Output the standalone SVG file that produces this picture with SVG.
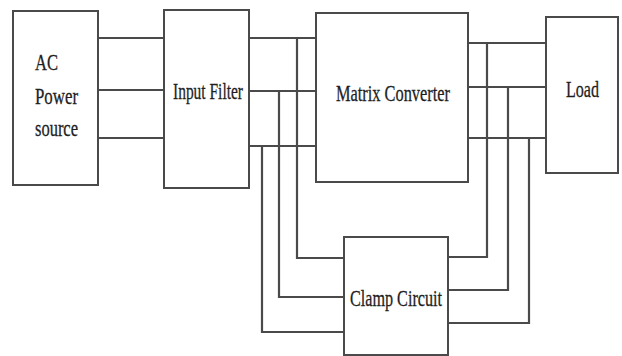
<svg xmlns="http://www.w3.org/2000/svg" width="622" height="356" viewBox="0 0 622 356">
<style>
.box{fill:#fff;stroke:#4a4a4a;stroke-width:2}
.w{fill:none;stroke:#4a4a4a;stroke-width:2.2}
.t{font-family:"Liberation Serif","Times New Roman",serif;font-size:24px;fill:#1e1e1e;stroke:#1e1e1e;stroke-width:0.3}
</style>
<rect width="622" height="356" fill="#fff"/>
<g id="connectors">
<line class="w" x1="98" y1="38" x2="164" y2="38"/>
<line class="w" x1="98" y1="90" x2="164" y2="90"/>
<line class="w" x1="98" y1="138" x2="164" y2="138"/>
<line class="w" x1="249" y1="38" x2="316" y2="38"/>
<line class="w" x1="249" y1="91" x2="316" y2="91"/>
<line class="w" x1="249" y1="146" x2="316" y2="146"/>
<polyline class="w" points="297,38 297,258 344,258"/>
<polyline class="w" points="279,91 279,297 344,297"/>
<polyline class="w" points="262,146 262,332 344,332"/>
<line class="w" x1="468" y1="43" x2="546" y2="43"/>
<line class="w" x1="468" y1="87" x2="546" y2="87"/>
<line class="w" x1="468" y1="138" x2="546" y2="138"/>
<polyline class="w" points="487,43 487,257 448,257"/>
<polyline class="w" points="508,87 508,290 448,290"/>
<polyline class="w" points="529,138 529,323 448,323"/>
</g>
<g id="ac">
<rect class="box" x="13" y="11" width="85" height="174"/>
<text class="t" x="35" y="70" textLength="23" lengthAdjust="spacingAndGlyphs">AC</text>
<text class="t" x="35" y="104" textLength="43" lengthAdjust="spacingAndGlyphs">Power</text>
<text class="t" x="35" y="136" textLength="43" lengthAdjust="spacingAndGlyphs">source</text>
</g>
<g id="filter">
<rect class="box" x="164" y="10" width="85" height="178"/>
<text class="t" x="173" y="99" textLength="70" lengthAdjust="spacingAndGlyphs">Input Filter</text>
</g>
<g id="matrix">
<rect class="box" x="316" y="13" width="152" height="169"/>
<text class="t" x="336" y="101" textLength="114" lengthAdjust="spacingAndGlyphs">Matrix Converter</text>
</g>
<g id="load">
<rect class="box" x="546" y="17" width="72" height="156"/>
<text class="t" x="566" y="97" textLength="33" lengthAdjust="spacingAndGlyphs">Load</text>
</g>
<g id="clamp">
<rect class="box" x="344" y="237" width="104" height="118"/>
<text class="t" x="350" y="306" textLength="92" lengthAdjust="spacingAndGlyphs">Clamp Circuit</text>
</g>
</svg>
